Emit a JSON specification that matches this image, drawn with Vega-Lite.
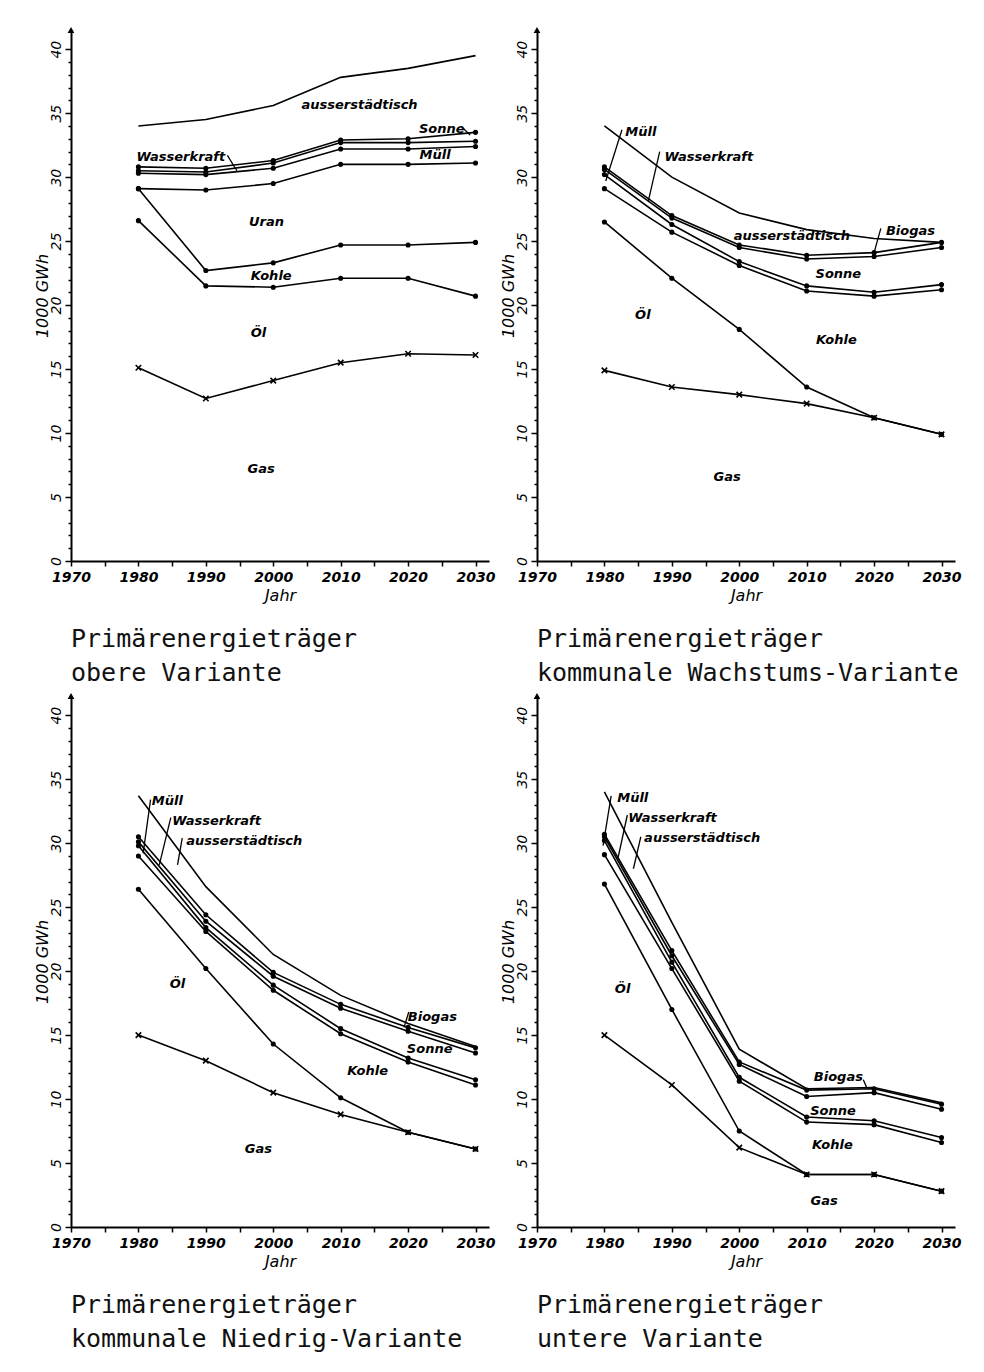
{
  "$schema": "https://vega.github.io/schema/vega-lite/v6.json",
  "background": "white",
  "padding": {"top": 27, "left": 34, "right": 5, "bottom": 5},
  "datasets": {
    "lines": [
      {"p":1,"s":"ausserstädtisch","year":1980,"v":34.0},{"p":1,"s":"ausserstädtisch","year":1990,"v":34.5},{"p":1,"s":"ausserstädtisch","year":2000,"v":35.6},{"p":1,"s":"ausserstädtisch","year":2010,"v":37.8},{"p":1,"s":"ausserstädtisch","year":2020,"v":38.5},{"p":1,"s":"ausserstädtisch","year":2030,"v":39.5},
      {"p":1,"s":"Sonne","year":1980,"v":30.8},{"p":1,"s":"Sonne","year":1990,"v":30.7},{"p":1,"s":"Sonne","year":2000,"v":31.3},{"p":1,"s":"Sonne","year":2010,"v":32.9},{"p":1,"s":"Sonne","year":2020,"v":33.0},{"p":1,"s":"Sonne","year":2030,"v":33.5},
      {"p":1,"s":"Wasserkraft","year":1980,"v":30.5},{"p":1,"s":"Wasserkraft","year":1990,"v":30.4},{"p":1,"s":"Wasserkraft","year":2000,"v":31.1},{"p":1,"s":"Wasserkraft","year":2010,"v":32.7},{"p":1,"s":"Wasserkraft","year":2020,"v":32.7},{"p":1,"s":"Wasserkraft","year":2030,"v":32.8},
      {"p":1,"s":"Müll","year":1980,"v":30.3},{"p":1,"s":"Müll","year":1990,"v":30.2},{"p":1,"s":"Müll","year":2000,"v":30.7},{"p":1,"s":"Müll","year":2010,"v":32.2},{"p":1,"s":"Müll","year":2020,"v":32.2},{"p":1,"s":"Müll","year":2030,"v":32.4},
      {"p":1,"s":"Uran","year":1980,"v":29.1},{"p":1,"s":"Uran","year":1990,"v":29.0},{"p":1,"s":"Uran","year":2000,"v":29.5},{"p":1,"s":"Uran","year":2010,"v":31.0},{"p":1,"s":"Uran","year":2020,"v":31.0},{"p":1,"s":"Uran","year":2030,"v":31.1},
      {"p":1,"s":"Kohle","year":1980,"v":29.1},{"p":1,"s":"Kohle","year":1990,"v":22.7},{"p":1,"s":"Kohle","year":2000,"v":23.3},{"p":1,"s":"Kohle","year":2010,"v":24.7},{"p":1,"s":"Kohle","year":2020,"v":24.7},{"p":1,"s":"Kohle","year":2030,"v":24.9},
      {"p":1,"s":"Öl","year":1980,"v":26.6},{"p":1,"s":"Öl","year":1990,"v":21.5},{"p":1,"s":"Öl","year":2000,"v":21.4},{"p":1,"s":"Öl","year":2010,"v":22.1},{"p":1,"s":"Öl","year":2020,"v":22.1},{"p":1,"s":"Öl","year":2030,"v":20.7},
      {"p":1,"s":"Gas","year":1980,"v":15.1},{"p":1,"s":"Gas","year":1990,"v":12.7},{"p":1,"s":"Gas","year":2000,"v":14.1},{"p":1,"s":"Gas","year":2010,"v":15.5},{"p":1,"s":"Gas","year":2020,"v":16.2},{"p":1,"s":"Gas","year":2030,"v":16.1},

      {"p":2,"s":"ausserstädtisch","year":1980,"v":34.0},{"p":2,"s":"ausserstädtisch","year":1990,"v":30.0},{"p":2,"s":"ausserstädtisch","year":2000,"v":27.2},{"p":2,"s":"ausserstädtisch","year":2010,"v":25.9},{"p":2,"s":"ausserstädtisch","year":2020,"v":25.2},{"p":2,"s":"ausserstädtisch","year":2030,"v":24.9},
      {"p":2,"s":"Biogas","year":1980,"v":30.8},{"p":2,"s":"Biogas","year":1990,"v":27.0},{"p":2,"s":"Biogas","year":2000,"v":24.7},{"p":2,"s":"Biogas","year":2010,"v":23.9},{"p":2,"s":"Biogas","year":2020,"v":24.1},{"p":2,"s":"Biogas","year":2030,"v":24.9},
      {"p":2,"s":"Wasserkraft","year":1980,"v":30.6},{"p":2,"s":"Wasserkraft","year":1990,"v":26.8},{"p":2,"s":"Wasserkraft","year":2000,"v":24.5},{"p":2,"s":"Wasserkraft","year":2010,"v":23.6},{"p":2,"s":"Wasserkraft","year":2020,"v":23.8},{"p":2,"s":"Wasserkraft","year":2030,"v":24.5},
      {"p":2,"s":"Sonne","year":1980,"v":30.2},{"p":2,"s":"Sonne","year":1990,"v":26.3},{"p":2,"s":"Sonne","year":2000,"v":23.4},{"p":2,"s":"Sonne","year":2010,"v":21.5},{"p":2,"s":"Sonne","year":2020,"v":21.0},{"p":2,"s":"Sonne","year":2030,"v":21.6},
      {"p":2,"s":"Kohle","year":1980,"v":29.1},{"p":2,"s":"Kohle","year":1990,"v":25.7},{"p":2,"s":"Kohle","year":2000,"v":23.1},{"p":2,"s":"Kohle","year":2010,"v":21.1},{"p":2,"s":"Kohle","year":2020,"v":20.7},{"p":2,"s":"Kohle","year":2030,"v":21.2},
      {"p":2,"s":"Öl","year":1980,"v":26.5},{"p":2,"s":"Öl","year":1990,"v":22.1},{"p":2,"s":"Öl","year":2000,"v":18.1},{"p":2,"s":"Öl","year":2010,"v":13.6},{"p":2,"s":"Öl","year":2020,"v":11.2},{"p":2,"s":"Öl","year":2030,"v":9.9},
      {"p":2,"s":"Gas","year":1980,"v":14.9},{"p":2,"s":"Gas","year":1990,"v":13.6},{"p":2,"s":"Gas","year":2000,"v":13.0},{"p":2,"s":"Gas","year":2010,"v":12.3},{"p":2,"s":"Gas","year":2020,"v":11.2},{"p":2,"s":"Gas","year":2030,"v":9.9},

      {"p":3,"s":"ausserstädtisch","year":1980,"v":33.7},{"p":3,"s":"ausserstädtisch","year":1990,"v":26.6},{"p":3,"s":"ausserstädtisch","year":2000,"v":21.3},{"p":3,"s":"ausserstädtisch","year":2010,"v":18.1},{"p":3,"s":"ausserstädtisch","year":2020,"v":15.9},{"p":3,"s":"ausserstädtisch","year":2030,"v":14.1},
      {"p":3,"s":"Biogas","year":1980,"v":30.5},{"p":3,"s":"Biogas","year":1990,"v":24.4},{"p":3,"s":"Biogas","year":2000,"v":19.9},{"p":3,"s":"Biogas","year":2010,"v":17.4},{"p":3,"s":"Biogas","year":2020,"v":15.6},{"p":3,"s":"Biogas","year":2030,"v":14.0},
      {"p":3,"s":"Wasserkraft","year":1980,"v":30.1},{"p":3,"s":"Wasserkraft","year":1990,"v":23.9},{"p":3,"s":"Wasserkraft","year":2000,"v":19.6},{"p":3,"s":"Wasserkraft","year":2010,"v":17.1},{"p":3,"s":"Wasserkraft","year":2020,"v":15.3},{"p":3,"s":"Wasserkraft","year":2030,"v":13.6},
      {"p":3,"s":"Sonne","year":1980,"v":29.8},{"p":3,"s":"Sonne","year":1990,"v":23.4},{"p":3,"s":"Sonne","year":2000,"v":18.9},{"p":3,"s":"Sonne","year":2010,"v":15.5},{"p":3,"s":"Sonne","year":2020,"v":13.2},{"p":3,"s":"Sonne","year":2030,"v":11.5},
      {"p":3,"s":"Kohle","year":1980,"v":29.0},{"p":3,"s":"Kohle","year":1990,"v":23.1},{"p":3,"s":"Kohle","year":2000,"v":18.5},{"p":3,"s":"Kohle","year":2010,"v":15.1},{"p":3,"s":"Kohle","year":2020,"v":12.9},{"p":3,"s":"Kohle","year":2030,"v":11.1},
      {"p":3,"s":"Öl","year":1980,"v":26.4},{"p":3,"s":"Öl","year":1990,"v":20.2},{"p":3,"s":"Öl","year":2000,"v":14.3},{"p":3,"s":"Öl","year":2010,"v":10.1},{"p":3,"s":"Öl","year":2020,"v":7.4},{"p":3,"s":"Öl","year":2030,"v":6.1},
      {"p":3,"s":"Gas","year":1980,"v":15.0},{"p":3,"s":"Gas","year":1990,"v":13.0},{"p":3,"s":"Gas","year":2000,"v":10.5},{"p":3,"s":"Gas","year":2010,"v":8.8},{"p":3,"s":"Gas","year":2020,"v":7.4},{"p":3,"s":"Gas","year":2030,"v":6.1},

      {"p":4,"s":"ausserstädtisch","year":1980,"v":34.0},{"p":4,"s":"ausserstädtisch","year":1990,"v":23.8},{"p":4,"s":"ausserstädtisch","year":2000,"v":13.9},{"p":4,"s":"ausserstädtisch","year":2010,"v":10.8},{"p":4,"s":"ausserstädtisch","year":2020,"v":10.9},{"p":4,"s":"ausserstädtisch","year":2030,"v":9.7},
      {"p":4,"s":"Biogas","year":1980,"v":30.7},{"p":4,"s":"Biogas","year":1990,"v":21.6},{"p":4,"s":"Biogas","year":2000,"v":12.9},{"p":4,"s":"Biogas","year":2010,"v":10.7},{"p":4,"s":"Biogas","year":2020,"v":10.8},{"p":4,"s":"Biogas","year":2030,"v":9.6},
      {"p":4,"s":"Wasserkraft","year":1980,"v":30.5},{"p":4,"s":"Wasserkraft","year":1990,"v":21.2},{"p":4,"s":"Wasserkraft","year":2000,"v":12.7},{"p":4,"s":"Wasserkraft","year":2010,"v":10.2},{"p":4,"s":"Wasserkraft","year":2020,"v":10.5},{"p":4,"s":"Wasserkraft","year":2030,"v":9.2},
      {"p":4,"s":"Sonne","year":1980,"v":30.2},{"p":4,"s":"Sonne","year":1990,"v":20.7},{"p":4,"s":"Sonne","year":2000,"v":11.7},{"p":4,"s":"Sonne","year":2010,"v":8.6},{"p":4,"s":"Sonne","year":2020,"v":8.3},{"p":4,"s":"Sonne","year":2030,"v":7.0},
      {"p":4,"s":"Kohle","year":1980,"v":29.1},{"p":4,"s":"Kohle","year":1990,"v":20.2},{"p":4,"s":"Kohle","year":2000,"v":11.4},{"p":4,"s":"Kohle","year":2010,"v":8.2},{"p":4,"s":"Kohle","year":2020,"v":8.0},{"p":4,"s":"Kohle","year":2030,"v":6.6},
      {"p":4,"s":"Öl","year":1980,"v":26.8},{"p":4,"s":"Öl","year":1990,"v":17.0},{"p":4,"s":"Öl","year":2000,"v":7.5},{"p":4,"s":"Öl","year":2010,"v":4.1},{"p":4,"s":"Öl","year":2020,"v":4.1},{"p":4,"s":"Öl","year":2030,"v":2.8},
      {"p":4,"s":"Gas","year":1980,"v":15.0},{"p":4,"s":"Gas","year":1990,"v":11.1},{"p":4,"s":"Gas","year":2000,"v":6.2},{"p":4,"s":"Gas","year":2010,"v":4.1},{"p":4,"s":"Gas","year":2020,"v":4.1},{"p":4,"s":"Gas","year":2030,"v":2.8}
    ],
    "labels": [
      {"p":1,"t":"ausserstädtisch","year":2012.8,"v":35.6},
      {"p":1,"t":"Sonne","year":2025.0,"v":33.8},
      {"p":1,"t":"Wasserkraft","year":1986.3,"v":31.6},
      {"p":1,"t":"Müll","year":2024.0,"v":31.7},
      {"p":1,"t":"Uran","year":1999.0,"v":26.5},
      {"p":1,"t":"Kohle","year":1999.7,"v":22.3},
      {"p":1,"t":"Öl","year":1997.8,"v":17.8},
      {"p":1,"t":"Gas","year":1998.2,"v":7.2},
      {"p":2,"t":"Müll","year":1985.4,"v":33.5},
      {"p":2,"t":"Wasserkraft","year":1995.5,"v":31.6},
      {"p":2,"t":"ausserstädtisch","year":2007.8,"v":25.4},
      {"p":2,"t":"Biogas","year":2025.4,"v":25.8},
      {"p":2,"t":"Sonne","year":2014.7,"v":22.4},
      {"p":2,"t":"Kohle","year":2014.4,"v":17.3},
      {"p":2,"t":"Öl","year":1985.7,"v":19.2},
      {"p":2,"t":"Gas","year":1998.2,"v":6.6},
      {"p":3,"t":"Müll","year":1984.3,"v":33.3},
      {"p":3,"t":"Wasserkraft","year":1991.6,"v":31.7},
      {"p":3,"t":"ausserstädtisch","year":1995.7,"v":30.2},
      {"p":3,"t":"Biogas","year":2023.6,"v":16.4},
      {"p":3,"t":"Sonne","year":2023.2,"v":13.9},
      {"p":3,"t":"Kohle","year":2014.0,"v":12.2},
      {"p":3,"t":"Öl","year":1985.8,"v":19.0},
      {"p":3,"t":"Gas","year":1997.8,"v":6.1},
      {"p":4,"t":"Müll","year":1984.2,"v":33.5},
      {"p":4,"t":"Wasserkraft","year":1990.1,"v":32.0},
      {"p":4,"t":"ausserstädtisch","year":1994.5,"v":30.4},
      {"p":4,"t":"Biogas","year":2014.7,"v":11.75},
      {"p":4,"t":"Sonne","year":2013.9,"v":9.1},
      {"p":4,"t":"Kohle","year":2013.8,"v":6.4},
      {"p":4,"t":"Öl","year":1982.7,"v":18.6},
      {"p":4,"t":"Gas","year":2012.6,"v":2.0}
    ],
    "leaders": [
      {"p":1,"year":2028.2,"v":33.8,"year2":2029.2,"v2":33.3},
      {"p":1,"year":1993.2,"v":31.7,"year2":1994.6,"v2":30.5},
      {"p":2,"year":1982.6,"v":33.7,"year2":1980.2,"v2":29.7},
      {"p":2,"year":1988.2,"v":32.0,"year2":1986.5,"v2":28.1},
      {"p":2,"year":2021.0,"v":26.0,"year2":2020.0,"v2":24.1},
      {"p":3,"year":1981.8,"v":33.4,"year2":1980.7,"v2":29.2},
      {"p":3,"year":1984.8,"v":32.0,"year2":1983.1,"v2":28.3},
      {"p":3,"year":1986.5,"v":30.4,"year2":1985.8,"v2":28.3},
      {"p":3,"year":2020.1,"v":16.8,"year2":2019.4,"v2":15.6},
      {"p":4,"year":1981.0,"v":33.7,"year2":1979.8,"v2":29.8},
      {"p":4,"year":1983.4,"v":32.2,"year2":1982.0,"v2":28.8},
      {"p":4,"year":1985.4,"v":30.5,"year2":1984.3,"v2":28.0},
      {"p":4,"year":2018.4,"v":11.5,"year2":2018.9,"v2":10.9}
    ],
    "arrow": [{"year": 1970, "v": 41.5}]
  },
  "config": {
    "view": {"stroke": null},
    "axis": {
      "domainColor": "black", "domainWidth": 2, "tickColor": "black", "tickWidth": 1.5,
      "labelColor": "black", "titleColor": "black", "grid": false,
      "labelFont": "DejaVu Sans", "labelFontStyle": "italic", "labelFontWeight": "bold", "labelFontSize": 14,
      "titleFont": "DejaVu Sans", "titleFontStyle": "italic", "titleFontWeight": "normal", "titleFontSize": 16,
      "labelOverlap": false
    },
    "title": {"orient": "bottom", "anchor": "start", "frame": "group", "font": "DejaVu Sans Mono", "fontSize": 25, "fontWeight": "normal", "color": "#111", "lineHeight": 34, "offset": 24}
  },
  "spacing": 7,
  "vconcat": [
    {
      "spacing": 5,
      "hconcat": [
        {
          "width": 418, "height": 531,
          "title": {"text": ["Primärenergieträger", "obere Variante"]},
          "encoding": {
            "x": {"field": "year", "type": "quantitative", "scale": {"domain": [1970, 2032], "nice": false, "zero": false}, "title": "Jahr",
              "axis": {"values": [1970,1975,1980,1985,1990,1995,2000,2005,2010,2015,2020,2025,2030], "labelExpr": "datum.value % 10 === 0 ? datum.label : ''", "format": "d", "tickSize": 5, "labelPadding": 4, "titlePadding": 3, "labelFlush": false, "labelOverlap": false}},
            "y": {"field": "v", "type": "quantitative", "scale": {"domain": [0, 41.5], "nice": false}, "title": "1000 GWh",
              "axis": {"values": [0,1,2,3,4,5,6,7,8,9,10,11,12,13,14,15,16,17,18,19,20,21,22,23,24,25,26,27,28,29,30,31,32,33,34,35,36,37,38,39,40], "labelExpr": "datum.value % 5 === 0 ? datum.label : ''", "labelAngle": 270, "labelPadding": 2, "labelFontWeight": "normal", "tickSize": {"condition": {"test": "datum.value % 5 === 0", "value": 6}, "value": 3}, "titlePadding": -1, "labelOverlap": false}}
          },
          "layer": [
            {"data": {"name": "lines"}, "transform": [{"filter": "datum.p === 1"}], "mark": {"type": "line", "color": "black", "strokeWidth": 1.6}, "encoding": {"detail": {"field": "s"}}},
            {"data": {"name": "lines"}, "transform": [{"filter": "datum.p === 1 && datum.s !== 'ausserstädtisch' && datum.s !== 'Gas'"}], "mark": {"type": "point", "filled": true, "color": "black", "size": 26, "opacity": 1}},
            {"data": {"name": "lines"}, "transform": [{"filter": "datum.p === 1 && datum.s === 'Gas'"}], "mark": {"type": "point", "shape": "M-1,-1L1,1M-1,1L1,-1", "filled": false, "color": "black", "strokeWidth": 1.6, "size": 30, "opacity": 1}},
            {"data": {"name": "leaders"}, "transform": [{"filter": "datum.p === 1"}], "mark": {"type": "rule", "color": "black", "strokeWidth": 1.3}, "encoding": {"x2": {"field": "year2"}, "y2": {"field": "v2"}}},
            {"data": {"name": "labels"}, "transform": [{"filter": "datum.p === 1"}], "mark": {"type": "text", "font": "DejaVu Sans", "fontStyle": "italic", "fontWeight": "bold", "fontSize": 13, "color": "black"}, "encoding": {"text": {"field": "t"}}},
            {"data": {"name": "arrow"}, "mark": {"type": "point", "shape": "triangle-up", "filled": true, "color": "black", "size": 45, "opacity": 1}}
          ]
        },
        {
          "width": 418, "height": 531,
          "title": {"text": ["Primärenergieträger", "kommunale Wachstums-Variante"]},
          "encoding": {
            "x": {"field": "year", "type": "quantitative", "scale": {"domain": [1970, 2032], "nice": false, "zero": false}, "title": "Jahr",
              "axis": {"values": [1970,1975,1980,1985,1990,1995,2000,2005,2010,2015,2020,2025,2030], "labelExpr": "datum.value % 10 === 0 ? datum.label : ''", "format": "d", "tickSize": 5, "labelPadding": 4, "titlePadding": 3, "labelFlush": false, "labelOverlap": false}},
            "y": {"field": "v", "type": "quantitative", "scale": {"domain": [0, 41.5], "nice": false}, "title": "1000 GWh",
              "axis": {"values": [0,1,2,3,4,5,6,7,8,9,10,11,12,13,14,15,16,17,18,19,20,21,22,23,24,25,26,27,28,29,30,31,32,33,34,35,36,37,38,39,40], "labelExpr": "datum.value % 5 === 0 ? datum.label : ''", "labelAngle": 270, "labelPadding": 2, "labelFontWeight": "normal", "tickSize": {"condition": {"test": "datum.value % 5 === 0", "value": 6}, "value": 3}, "titlePadding": -1, "labelOverlap": false}}
          },
          "layer": [
            {"data": {"name": "lines"}, "transform": [{"filter": "datum.p === 2"}], "mark": {"type": "line", "color": "black", "strokeWidth": 1.6}, "encoding": {"detail": {"field": "s"}}},
            {"data": {"name": "lines"}, "transform": [{"filter": "datum.p === 2 && datum.s !== 'ausserstädtisch' && datum.s !== 'Gas'"}], "mark": {"type": "point", "filled": true, "color": "black", "size": 26, "opacity": 1}},
            {"data": {"name": "lines"}, "transform": [{"filter": "datum.p === 2 && datum.s === 'Gas'"}], "mark": {"type": "point", "shape": "M-1,-1L1,1M-1,1L1,-1", "filled": false, "color": "black", "strokeWidth": 1.6, "size": 30, "opacity": 1}},
            {"data": {"name": "leaders"}, "transform": [{"filter": "datum.p === 2"}], "mark": {"type": "rule", "color": "black", "strokeWidth": 1.3}, "encoding": {"x2": {"field": "year2"}, "y2": {"field": "v2"}}},
            {"data": {"name": "labels"}, "transform": [{"filter": "datum.p === 2"}], "mark": {"type": "text", "font": "DejaVu Sans", "fontStyle": "italic", "fontWeight": "bold", "fontSize": 13, "color": "black"}, "encoding": {"text": {"field": "t"}}},
            {"data": {"name": "arrow"}, "mark": {"type": "point", "shape": "triangle-up", "filled": true, "color": "black", "size": 45, "opacity": 1}}
          ]
        }
      ]
    },
    {
      "spacing": 5,
      "hconcat": [
        {
          "width": 418, "height": 531,
          "title": {"text": ["Primärenergieträger", "kommunale Niedrig-Variante"]},
          "encoding": {
            "x": {"field": "year", "type": "quantitative", "scale": {"domain": [1970, 2032], "nice": false, "zero": false}, "title": "Jahr",
              "axis": {"values": [1970,1975,1980,1985,1990,1995,2000,2005,2010,2015,2020,2025,2030], "labelExpr": "datum.value % 10 === 0 ? datum.label : ''", "format": "d", "tickSize": 5, "labelPadding": 4, "titlePadding": 3, "labelFlush": false, "labelOverlap": false}},
            "y": {"field": "v", "type": "quantitative", "scale": {"domain": [0, 41.5], "nice": false}, "title": "1000 GWh",
              "axis": {"values": [0,1,2,3,4,5,6,7,8,9,10,11,12,13,14,15,16,17,18,19,20,21,22,23,24,25,26,27,28,29,30,31,32,33,34,35,36,37,38,39,40], "labelExpr": "datum.value % 5 === 0 ? datum.label : ''", "labelAngle": 270, "labelPadding": 2, "labelFontWeight": "normal", "tickSize": {"condition": {"test": "datum.value % 5 === 0", "value": 6}, "value": 3}, "titlePadding": -1, "labelOverlap": false}}
          },
          "layer": [
            {"data": {"name": "lines"}, "transform": [{"filter": "datum.p === 3"}], "mark": {"type": "line", "color": "black", "strokeWidth": 1.6}, "encoding": {"detail": {"field": "s"}}},
            {"data": {"name": "lines"}, "transform": [{"filter": "datum.p === 3 && datum.s !== 'ausserstädtisch' && datum.s !== 'Gas'"}], "mark": {"type": "point", "filled": true, "color": "black", "size": 26, "opacity": 1}},
            {"data": {"name": "lines"}, "transform": [{"filter": "datum.p === 3 && datum.s === 'Gas'"}], "mark": {"type": "point", "shape": "M-1,-1L1,1M-1,1L1,-1", "filled": false, "color": "black", "strokeWidth": 1.6, "size": 30, "opacity": 1}},
            {"data": {"name": "leaders"}, "transform": [{"filter": "datum.p === 3"}], "mark": {"type": "rule", "color": "black", "strokeWidth": 1.3}, "encoding": {"x2": {"field": "year2"}, "y2": {"field": "v2"}}},
            {"data": {"name": "labels"}, "transform": [{"filter": "datum.p === 3"}], "mark": {"type": "text", "font": "DejaVu Sans", "fontStyle": "italic", "fontWeight": "bold", "fontSize": 13, "color": "black"}, "encoding": {"text": {"field": "t"}}},
            {"data": {"name": "arrow"}, "mark": {"type": "point", "shape": "triangle-up", "filled": true, "color": "black", "size": 45, "opacity": 1}}
          ]
        },
        {
          "width": 418, "height": 531,
          "title": {"text": ["Primärenergieträger", "untere Variante"]},
          "encoding": {
            "x": {"field": "year", "type": "quantitative", "scale": {"domain": [1970, 2032], "nice": false, "zero": false}, "title": "Jahr",
              "axis": {"values": [1970,1975,1980,1985,1990,1995,2000,2005,2010,2015,2020,2025,2030], "labelExpr": "datum.value % 10 === 0 ? datum.label : ''", "format": "d", "tickSize": 5, "labelPadding": 4, "titlePadding": 3, "labelFlush": false, "labelOverlap": false}},
            "y": {"field": "v", "type": "quantitative", "scale": {"domain": [0, 41.5], "nice": false}, "title": "1000 GWh",
              "axis": {"values": [0,1,2,3,4,5,6,7,8,9,10,11,12,13,14,15,16,17,18,19,20,21,22,23,24,25,26,27,28,29,30,31,32,33,34,35,36,37,38,39,40], "labelExpr": "datum.value % 5 === 0 ? datum.label : ''", "labelAngle": 270, "labelPadding": 2, "labelFontWeight": "normal", "tickSize": {"condition": {"test": "datum.value % 5 === 0", "value": 6}, "value": 3}, "titlePadding": -1, "labelOverlap": false}}
          },
          "layer": [
            {"data": {"name": "lines"}, "transform": [{"filter": "datum.p === 4"}], "mark": {"type": "line", "color": "black", "strokeWidth": 1.6}, "encoding": {"detail": {"field": "s"}}},
            {"data": {"name": "lines"}, "transform": [{"filter": "datum.p === 4 && datum.s !== 'ausserstädtisch' && datum.s !== 'Gas'"}], "mark": {"type": "point", "filled": true, "color": "black", "size": 26, "opacity": 1}},
            {"data": {"name": "lines"}, "transform": [{"filter": "datum.p === 4 && datum.s === 'Gas'"}], "mark": {"type": "point", "shape": "M-1,-1L1,1M-1,1L1,-1", "filled": false, "color": "black", "strokeWidth": 1.6, "size": 30, "opacity": 1}},
            {"data": {"name": "leaders"}, "transform": [{"filter": "datum.p === 4"}], "mark": {"type": "rule", "color": "black", "strokeWidth": 1.3}, "encoding": {"x2": {"field": "year2"}, "y2": {"field": "v2"}}},
            {"data": {"name": "labels"}, "transform": [{"filter": "datum.p === 4"}], "mark": {"type": "text", "font": "DejaVu Sans", "fontStyle": "italic", "fontWeight": "bold", "fontSize": 13, "color": "black"}, "encoding": {"text": {"field": "t"}}},
            {"data": {"name": "arrow"}, "mark": {"type": "point", "shape": "triangle-up", "filled": true, "color": "black", "size": 45, "opacity": 1}}
          ]
        }
      ]
    }
  ]
}
